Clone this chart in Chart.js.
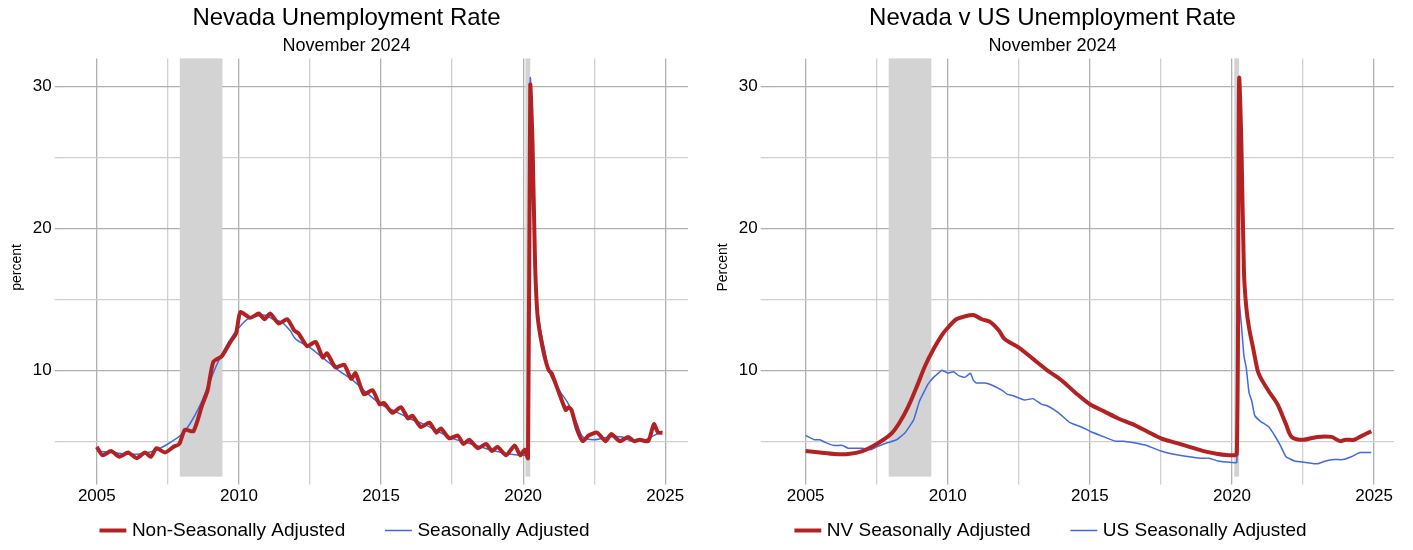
<!DOCTYPE html>
<html lang="en">
<head>
<meta charset="UTF-8">
<title>Nevada Unemployment Rate</title>
<script src="https://cdn.jsdelivr.net/npm/chart.js"></script>
<style>
  body { margin: 0; background: #fff; font-family: Arial, "Liberation Sans", sans-serif; }
  #wrap { display: flex; width: 1413px; height: 550px; }
  .box { width: 706px; height: 550px; position: relative; }
</style>
</head>
<body>
<div id="wrap">
  <div class="box"><canvas id="left"></canvas></div>
  <div class="box"><canvas id="right"></canvas></div>
</div>
<script>
// decimal year, percent
const nvSA = [[2005.0,4.3],[2005.5,4.2],[2006.0,4.1],[2006.5,4.1],[2007.0,4.3],[2007.5,4.8],[2008.0,5.5],[2008.3,6.3],[2008.6,7.4],[2008.9,8.8],[2009.2,10.3],[2009.5,11.5],[2009.8,12.5],[2010.0,13.0],[2010.3,13.6],[2010.6,13.8],[2010.9,13.9],[2011.2,13.6],[2011.5,13.4],[2011.8,12.8],[2012.0,12.2],[2012.5,11.6],[2013.0,10.8],[2013.5,10.0],[2014.0,9.3],[2014.5,8.4],[2015.0,7.6],[2015.5,7.1],[2016.0,6.6],[2016.5,6.2],[2017.0,5.7],[2017.5,5.2],[2018.0,4.9],[2018.5,4.6],[2019.0,4.3],[2019.5,4.1],[2020.0,4.0],[2020.17,4.1],[2020.25,30.5],[2020.33,26],[2020.42,17],[2020.5,14.5],[2020.6,13],[2020.75,11.5],[2020.9,10],[2021.0,9.5],[2021.3,8.5],[2021.6,7.6],[2021.9,6.2],[2022.1,5.3],[2022.5,5.1],[2023.0,5.3],[2023.5,5.3],[2023.8,5.0],[2024.0,5.1],[2024.3,5.1],[2024.5,5.3],[2024.9,5.7]];
const nvNSA = [[2005.0,4.6],[2005.2,4.0],[2005.5,4.3],[2005.8,3.9],[2006.1,4.2],[2006.4,3.8],[2006.7,4.2],[2006.9,3.9],[2007.1,4.5],[2007.4,4.2],[2007.7,4.6],[2007.9,4.8],[2008.1,5.8],[2008.4,5.7],[2008.7,7.5],[2008.9,8.6],[2009.1,10.6],[2009.4,11.0],[2009.7,12.0],[2009.9,12.6],[2010.05,14.1],[2010.4,13.7],[2010.7,14.0],[2010.9,13.6],[2011.1,14.0],[2011.4,13.3],[2011.7,13.6],[2011.95,12.8],[2012.1,12.6],[2012.4,11.7],[2012.7,12.0],[2012.95,10.9],[2013.1,11.2],[2013.4,10.2],[2013.7,10.4],[2013.95,9.4],[2014.1,9.8],[2014.4,8.3],[2014.7,8.6],[2014.95,7.6],[2015.1,7.7],[2015.4,7.0],[2015.7,7.4],[2015.95,6.6],[2016.1,6.8],[2016.4,6.0],[2016.7,6.3],[2016.95,5.6],[2017.1,5.9],[2017.4,5.2],[2017.7,5.4],[2017.9,4.8],[2018.1,5.1],[2018.4,4.5],[2018.7,4.8],[2018.9,4.3],[2019.1,4.6],[2019.4,4.0],[2019.7,4.7],[2019.9,4.0],[2020.05,4.4],[2020.17,3.8],[2020.25,30.1],[2020.33,26],[2020.42,17.5],[2020.5,14],[2020.6,12.5],[2020.75,11],[2020.9,10],[2021.0,9.8],[2021.3,8.2],[2021.5,7.2],[2021.6,7.4],[2021.7,7.2],[2021.9,5.8],[2022.1,5.0],[2022.3,5.4],[2022.6,5.6],[2022.9,5.0],[2023.1,5.5],[2023.4,5.0],[2023.7,5.3],[2023.9,5.0],[2024.1,5.1],[2024.4,5.0],[2024.6,6.2],[2024.75,5.6],[2024.9,5.6]];
const usSA = [[2005.0,5.4],[2005.3,5.1],[2005.5,5.1],[2005.7,4.9],[2006.0,4.7],[2006.3,4.7],[2006.5,4.5],[2007.0,4.5],[2007.3,4.4],[2007.5,4.6],[2007.9,4.9],[2008.2,5.1],[2008.5,5.6],[2008.8,6.5],[2009.0,7.8],[2009.3,9.0],[2009.5,9.5],[2009.8,10.0],[2010.0,9.8],[2010.2,9.9],[2010.4,9.6],[2010.6,9.5],[2010.8,9.8],[2010.9,9.3],[2011.0,9.1],[2011.3,9.1],[2011.5,9.0],[2011.9,8.6],[2012.1,8.3],[2012.3,8.2],[2012.7,7.9],[2013.0,8.0],[2013.3,7.6],[2013.5,7.5],[2013.9,7.0],[2014.3,6.3],[2014.7,6.0],[2015.0,5.7],[2015.5,5.3],[2015.9,5.0],[2016.2,5.0],[2016.5,4.9],[2017.0,4.7],[2017.5,4.3],[2017.9,4.1],[2018.5,3.9],[2018.9,3.8],[2019.2,3.8],[2019.5,3.6],[2020.0,3.5],[2020.17,3.5],[2020.25,14.8],[2020.33,13.2],[2020.42,11.0],[2020.5,10.2],[2020.6,8.4],[2020.7,7.8],[2020.8,6.8],[2021.0,6.4],[2021.3,6.0],[2021.5,5.4],[2021.7,4.7],[2021.9,3.9],[2022.2,3.6],[2022.6,3.5],[2023.0,3.4],[2023.3,3.6],[2023.6,3.7],[2023.9,3.7],[2024.2,3.9],[2024.5,4.2],[2024.9,4.2]];
const recessions = [[2007.92, 2009.42], [2020.08, 2020.25]];
const xTicks = [2005, 2007.5, 2010, 2012.5, 2015, 2017.5, 2020, 2022.5, 2025];
const yTicks = [5, 10, 15, 20, 25, 30];

const pts = arr => arr.map(d => ({ x: d[0], y: d[1] }));

const shade = {
  id: 'shade',
  beforeDatasetsDraw(chart) {
    const { ctx, chartArea, scales } = chart;
    ctx.save();
    ctx.fillStyle = '#d3d3d3';
    recessions.forEach(r => {
      const x0 = scales.x.getPixelForValue(r[0]);
      const x1 = scales.x.getPixelForValue(r[1]);
      ctx.fillRect(x0, chartArea.top, x1 - x0, chartArea.bottom - chartArea.top);
    });
    ctx.restore();
  }
};

function makeChart(id, title, yLabel, xMin, xMax, sets) {
  return new Chart(document.getElementById(id), {
    type: 'line',
    data: { datasets: sets },
    plugins: [shade],
    options: {
      responsive: true, maintainAspectRatio: false, animation: false,
      layout: { padding: { left: 5, right: 18, top: 0, bottom: 0 } },
      elements: { point: { radius: 0 }, line: { tension: 0.3 } },
      plugins: {
        title: { display: true, text: title, color: '#000', font: { size: 24, weight: 'normal' }, padding: { top: 4, bottom: 2 } },
        subtitle: { display: true, text: 'November 2024', color: '#000', font: { size: 18 }, padding: { bottom: 2 } },
        legend: {
          position: 'bottom',
          labels: {
            usePointStyle: true, pointStyle: 'line', color: '#000', font: { size: 19 }, boxWidth: 50, padding: 12,
            generateLabels: chart => Chart.defaults.plugins.legend.labels.generateLabels(chart)
              .map((l, i) => Object.assign(l, { text: i === 0 ? l.text + '      ' : l.text }))
          }
        }
      },
      scales: {
        x: {
          type: 'linear', min: xMin, max: xMax,
          afterBuildTicks: ax => { ax.ticks = xTicks.map(v => ({ value: v })); },
          ticks: { color: '#000', font: { size: 17 }, autoSkip: false, maxRotation: 0, padding: 2,
            callback: v => (v % 5 === 0 ? String(v) : '') },
          grid: { color: v => (v.tick && v.tick.value % 5 === 0 ? '#b0b0b0' : '#d0d0d0'), lineWidth: 1.3 },
          border: { display: false }
        },
        y: {
          min: 2.5, max: 32,
          afterBuildTicks: ax => { ax.ticks = yTicks.map(v => ({ value: v })); },
          ticks: { color: '#000', font: { size: 17 }, callback: v => (v % 10 === 0 ? String(v) : '') },
          grid: { color: v => (v.tick && v.tick.value % 10 === 0 ? '#b0b0b0' : '#d0d0d0'), lineWidth: 1.3 },
          border: { display: false },
          title: { display: true, text: yLabel, color: '#000', font: { size: 14 } }
        }
      }
    }
  });
}

makeChart('left', 'Nevada Unemployment Rate', 'percent', 2003.8, 2025.8, [
  { label: 'Non-Seasonally Adjusted', data: pts(nvNSA), borderColor: '#b22222', backgroundColor: '#b22222', borderWidth: 4, tension: 0.2 },
  { label: 'Seasonally Adjusted', data: pts(nvSA), borderColor: '#4169e1', backgroundColor: '#4169e1', borderWidth: 1.5 }
]);
makeChart('right', 'Nevada v US Unemployment Rate', 'Percent', 2003.7, 2025.7, [
  { label: 'NV Seasonally Adjusted', data: pts(nvSA), borderColor: '#b22222', backgroundColor: '#b22222', borderWidth: 4 },
  { label: 'US Seasonally Adjusted', data: pts(usSA), borderColor: '#4169e1', backgroundColor: '#4169e1', borderWidth: 1.5, tension: 0.1 }
]);
</script>
</body>
</html>
